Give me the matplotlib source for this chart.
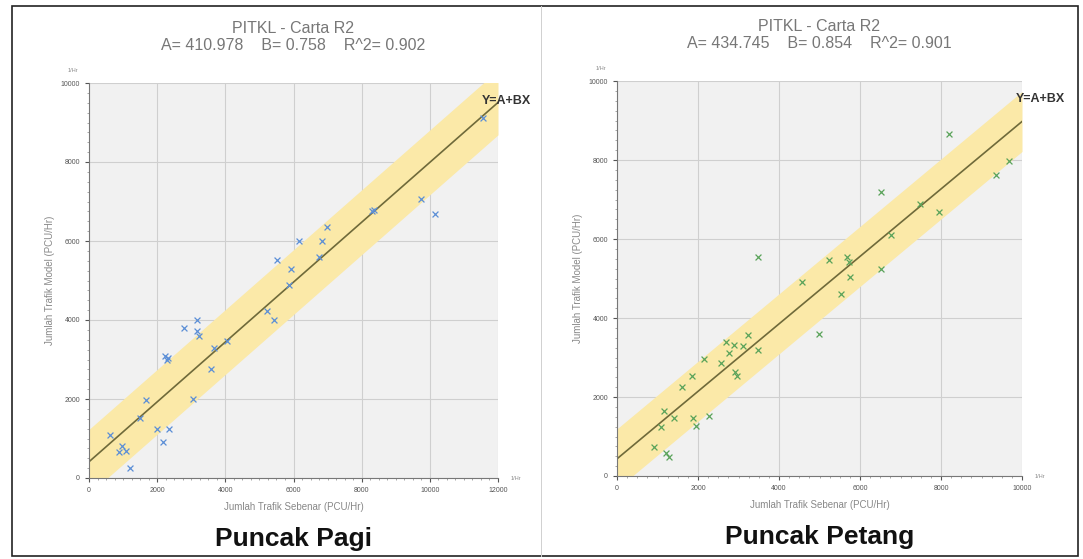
import matplotlib.pyplot as plt
import numpy as np
from matplotlib.patches import Rectangle
from matplotlib.ticker import MultipleLocator

plt.rcParams['font.family'] = ['Liberation Sans', 'DejaVu Sans']

# data
pagi_sebenar = [2783, 3158, 3158, 3223, 3673, 4048, 2230, 2290, 2330, 3579,
                1658, 3064, 1499, 2005, 2343, 2174, 628, 956, 1096, 881,
                1190, 6973, 6155, 6836, 5507, 6745, 5926, 5880, 5228, 5414,
                8376, 8300, 9746, 10152, 11550]
pagi_model = [3792, 3999, 3726, 3586, 3297, 3479, 3100, 3000, 3050, 2760,
              1975, 1992, 1521, 1232, 1232, 918, 1083, 819, 695, 654,
              241, 6366, 6000, 6000, 5515, 5600, 5302, 4877, 4238, 4000,
              6791, 6760, 7064, 6681, 9114]

petang_sebenar = [1160, 920, 1200, 1280, 1400, 1080, 1600, 1840, 2144, 1880,
                  1944, 2264, 2560, 2680, 2760, 2880, 2960, 2920, 3120, 3240,
                  3480, 3486, 4996, 4560, 5240, 5680, 5720, 5744, 5520, 6520,
                  6520, 6760, 7480, 7960, 8200, 9360, 9680]
petang_model = [1640, 738, 574, 492, 1476, 1230, 2255, 2542, 2968, 1476,
                1271, 1517, 2870, 3403, 3116, 3321, 2542, 2624, 3280, 3567,
                3198, 5542, 3597, 4913, 5461, 5548, 5417, 5026, 4617, 5243,
                7200, 6113, 6896, 6678, 8652, 7609, 7983]

panels = [
    dict(x=pagi_sebenar, y=pagi_model, A=410.978, B=0.758, R2=0.902,
         band=820, xmax=12000, col='#5b8ed6', name='Puncak Pagi', eq_x=1.02,
         pos=[89 / 1083, 1 - 478 / 559, 409 / 1083, 395 / 559]),
    dict(x=petang_sebenar, y=petang_model, A=434.745, B=0.854, R2=0.901,
         band=760, xmax=10000, col='#5aa35a', name='Puncak Petang', eq_x=1.045,
         pos=[617 / 1083, 1 - 476 / 559, 405 / 1083, 395 / 559]),
]

fig = plt.figure(figsize=(10.83, 5.59), dpi=100)
fig.patches.append(Rectangle((12 / 1083, 3 / 559), 1066 / 1083, 550 / 559,
                             transform=fig.transFigure, fill=False,
                             edgecolor='#222222', linewidth=1.2))
fig.add_artist(plt.Line2D([541 / 1083, 541 / 1083], [3 / 559, 553 / 559],
                          transform=fig.transFigure, color='#d0d0d0', lw=0.7))

for p in panels:
    ax = fig.add_axes(p['pos'])
    ax.set_facecolor('#f1f1f1')
    xs = np.array([0, p['xmax']])
    ys = p['A'] + p['B'] * xs
    ax.fill_between(xs, ys - p['band'], ys + p['band'], color='#fbe9a8',
                    zorder=1, linewidth=0)
    ax.plot(xs, ys, color='#6f6a3a', lw=1.2, zorder=2)
    ax.scatter(p['x'], p['y'], marker='x', s=18, color=p['col'],
               linewidths=0.9, zorder=3)
    ax.set_xlim(0, p['xmax'])
    ax.set_ylim(0, 10000)
    ax.xaxis.set_major_locator(MultipleLocator(2000))
    ax.yaxis.set_major_locator(MultipleLocator(2000))
    ax.xaxis.set_minor_locator(MultipleLocator(250))
    ax.yaxis.set_minor_locator(MultipleLocator(250))
    ax.grid(True, which='major', color='#cfcfcf', lw=0.8, zorder=0)
    ax.set_axisbelow(True)
    for s in ['top', 'right']:
        ax.spines[s].set_visible(False)
    for s in ['left', 'bottom']:
        ax.spines[s].set_color('#777777')
        ax.spines[s].set_linewidth(0.8)
    ax.tick_params(which='major', labelsize=5, colors='#555555', length=3)
    ax.tick_params(which='minor', colors='#999999', length=1.5)
    ax.set_xlabel('Jumlah Trafik Sebenar (PCU/Hr)', fontsize=7,
                  color='#888888', labelpad=6)
    ax.set_ylabel('Jumlah Trafik Model (PCU/Hr)', fontsize=7,
                  color='#888888', labelpad=4)
    ax.set_title('PITKL - Carta R2\nA= %.3f    B= %.3f    R^2= %.3f'
                 % (p['A'], p['B'], p['R2']),
                 fontsize=11.5, color='#777777', pad=24, linespacing=1.1)
    ax.text(p['eq_x'], 0.955, 'Y=A+BX', transform=ax.transAxes, fontsize=9,
            fontweight='bold', color='#333333', ha='center', va='center')
    ax.text(-0.04, 1.025, '1/Hr', transform=ax.transAxes, fontsize=4,
            color='#888888', ha='center', va='bottom')
    ax.text(1.045, 0.0, '1/Hr', transform=ax.transAxes, fontsize=4,
            color='#888888', ha='center', va='center')
    ax.text(0.5, -0.125, p['name'], transform=ax.transAxes, fontsize=19,
            fontweight='bold', color='#111111', ha='center', va='top')

fig.savefig('out.png', dpi=100)
